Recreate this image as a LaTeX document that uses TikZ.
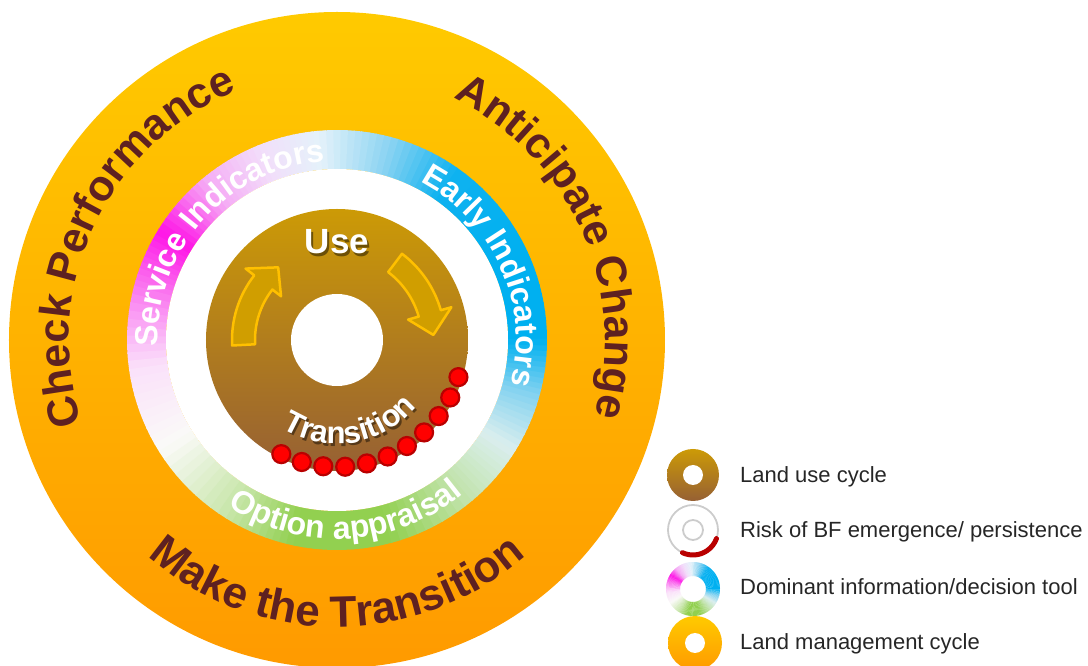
\documentclass[tikz,border=0pt]{standalone}
\usepackage{fontspec}
\setmainfont{Liberation Sans}
\usetikzlibrary{positioning,decorations.text}

\definecolor{orangetop}{RGB}{255,202,0}
\definecolor{orangebot}{RGB}{255,154,0}
\definecolor{usetop}{RGB}{204,154,6}
\definecolor{usebot}{RGB}{150,96,52}
\definecolor{cycletxt}{RGB}{94,33,33}
\definecolor{arrowfill}{RGB}{208,158,0}
\definecolor{arrowline}{RGB}{255,192,0}
\definecolor{riskred}{RGB}{255,0,0}
\definecolor{riskdark}{RGB}{185,0,0}
\definecolor{legtxt}{RGB}{38,38,38}
% couleurs de l'anneau d'information
\definecolor{infA}{RGB}{0,176,240}
\definecolor{infB}{RGB}{0,176,240}
\definecolor{infC}{RGB}{15,178,240}
\definecolor{infD}{RGB}{140,212,242}
\definecolor{infE}{RGB}{228,242,250}
\definecolor{infF}{RGB}{242,222,250}
\definecolor{infG}{RGB}{245,170,245}
\definecolor{infH}{RGB}{255,20,230}
\definecolor{infI}{RGB}{250,120,240}
\definecolor{infJ}{RGB}{250,225,250}
\definecolor{infK}{RGB}{250,250,248}
\definecolor{infL}{RGB}{200,230,170}
\definecolor{infM}{RGB}{146,208,80}
\definecolor{infN}{RGB}{146,208,80}
\definecolor{infO}{RGB}{195,228,175}
\definecolor{infP}{RGB}{218,238,238}
\definecolor{infQ}{RGB}{130,210,240}
\definecolor{infR}{RGB}{0,176,240}

\newcommand{\bigtxt}{\color{cycletxt}\bfseries\fontsize{43}{43}\selectfont}
\newcommand{\bottxt}{\color{cycletxt}\bfseries\fontsize{44}{44}\selectfont}
\newcommand{\ringtxt}{\color{white}\bfseries\fontsize{32}{32}\selectfont}
\newcommand{\transtxt}{\color{white}\bfseries\fontsize{31}{31}\selectfont}
\newcommand{\shadowtxt}{\color{black}\bfseries\fontsize{31}{31}\selectfont}

% anneau a degrade angulaire (rayon interieur, rayon exterieur)
\newcommand{\inforing}[2]{%
  \foreach \angA/\angB/\colA/\colB in {0/25/infA/infB, 25/55/infB/infC, 55/75/infC/infD,
      75/95/infD/infE, 95/112/infE/infF, 112/130/infF/infG, 130/148/infG/infH,
      148/165/infH/infI, 165/188/infI/infJ, 188/212/infJ/infK, 212/238/infK/infL,
      238/258/infL/infM, 258/285/infM/infN, 285/310/infN/infO, 310/328/infO/infP,
      328/345/infP/infQ, 345/360/infQ/infR}{%
    \foreach \i in {0,...,9}{%
      \pgfmathsetmacro{\wA}{\angA+(\angB-\angA)*\i/10}%
      \pgfmathsetmacro{\wB}{\angA+(\angB-\angA)*(\i+1)/10+0.4}%
      \pgfmathtruncatemacro{\mixP}{\i*10+5}%
      \fill[\colB!\mixP!\colA] (\wA:#1) arc[start angle=\wA, end angle=\wB, radius=#1]
        -- (\wB:#2) arc[start angle=\wB, end angle=\wA, radius=#2] -- cycle;
    }%
  }%
}

% fleche courbe du cycle d'usage
\newcommand{\cyclearrow}[7]{%
  \draw[arrowband] (#1:#5) arc[start angle=#1, end angle=#2, radius=#5]
    -- (#2:#7) -- ({#3}:{(#4+#5)/2}) -- (#2:#6) -- (#2:#4)
    arc[start angle=#2, end angle=#1, radius=#4] -- cycle;}

\begin{document}
\begin{tikzpicture}[x=1pt, y=1pt,
    riskdot/.style={circle, fill=riskred, draw=riskdark, line width=2.2pt, minimum size=18pt, inner sep=0pt},
    arrowband/.style={fill=arrowfill, draw=arrowline, line width=2.5pt, line join=round},
    legtext/.style={inner sep=0pt, text height=.72em, text depth=0pt, text=legtxt, font=\fontsize{22}{24}\selectfont},
    usetxt/.style={inner sep=0pt, font=\bfseries\fontsize{35}{35}\selectfont}]

    \useasboundingbox (-337,-326) rectangle (751,340);

    % Cycle de gestion (anneau orange)
    \shade[top color=orangetop, bottom color=orangebot] (0,0) circle[radius=328];

    % Anneau des outils d'information
    \inforing{171}{210}
    \fill[white] (0,0) circle[radius=171];

    % Cycle d'usage
    \shade[top color=usetop, bottom color=usebot] (0,0) circle[radius=131];
    \fill[white] (0,0) circle[radius=46];

    % Fleches du cycle
    \cyclearrow{183}{142}{129}{82}{105}{71}{116}
    \cyclearrow{53}{16}{3}{85}{108}{74}{119}

    % Points de risque
    \foreach \k in {0,...,10}
        \node[riskdot] (risk\k) at ({244+9.9*\k}:127) {};

    % Textes de l'anneau orange
    \path[decorate, decoration={text along path, text align=center,
        text={|\bigtxt|Check Performance}}]
        (205:268) arc[start angle=205, end angle=105, radius=268];
    \path[decorate, decoration={text along path, text align=center,
        text={|\bigtxt|Anticipate Change}}]
        (74:268) arc[start angle=74, end angle=-26, radius=268];
    \path[decorate, decoration={text along path, text align=center,
        text={|\bottxt|Make the Transition}}]
        (215:287) arc[start angle=215, end angle=325, radius=287];

    % Textes de l'anneau d'information
    \path[decorate, decoration={text along path, text align=center,
        text={|\ringtxt|Service Indicators}}]
        (188:179) arc[start angle=188, end angle=88, radius=179];
    \path[decorate, decoration={text along path, text align=center,
        text={|\ringtxt|Early Indicators}}]
        (70:179) arc[start angle=70, end angle=-22, radius=179];
    \path[decorate, decoration={text along path, text align=center,
        text={|\ringtxt|Option appraisal}}]
        (228:199) arc[start angle=228, end angle=318, radius=199];

    % Textes du cycle d'usage (ombre puis texte)
    \node[usetxt, text=black, opacity=.45] (useShadow) at (2,95.5) {Use};
    \node[usetxt, text=white] (useLabel) at (0,98) {Use};
    \begin{scope}[opacity=.45]
        \path[decorate, decoration={text along path, text align=center,
            text={|\shadowtxt|Transition}}]
            ([shift={(2,-2.5)}]219:104) arc[start angle=219, end angle=339, radius=104];
    \end{scope}
    \path[decorate, decoration={text along path, text align=center,
        text={|\transtxt|Transition}}]
        (219:104) arc[start angle=219, end angle=339, radius=104];

    % Legende
    \coordinate (iconUse) at (356,-135);
    \coordinate (iconRisk) at (356,-190);
    \coordinate (iconInfo) at (356,-249);
    \coordinate (iconLand) at (358,-303);

    \shade[top color=usetop, bottom color=usebot] (iconUse) circle[radius=26];
    \fill[white] (iconUse) circle[radius=10];

    \draw[gray!40, line width=1.8pt] (iconRisk) circle[radius=25];
    \draw[gray!40, line width=1.8pt] (iconRisk) circle[radius=10];
    \draw[riskdark, line width=5pt, line cap=round] ([shift={(245:25)}]iconRisk)
        arc[start angle=245, end angle=340, radius=25];

    \begin{scope}[shift={(iconInfo)}]
        \inforing{13}{27}
    \end{scope}

    \shade[top color=orangetop, bottom color=orangebot] (iconLand) circle[radius=27];
    \fill[white] (iconLand) circle[radius=10];

    \node[legtext, right=47pt of iconUse, yshift=-4pt] (legUse) {Land use cycle};
    \node[legtext, right=47pt of iconRisk, yshift=-4pt] (legRisk) {Risk of BF emergence/ persistence};
    \node[legtext, right=47pt of iconInfo, yshift=-2pt] (legInfo) {Dominant information/decision tool};
    \node[legtext, right=45pt of iconLand, yshift=-3pt] (legLand) {Land management cycle};

\end{tikzpicture}
\end{document}
